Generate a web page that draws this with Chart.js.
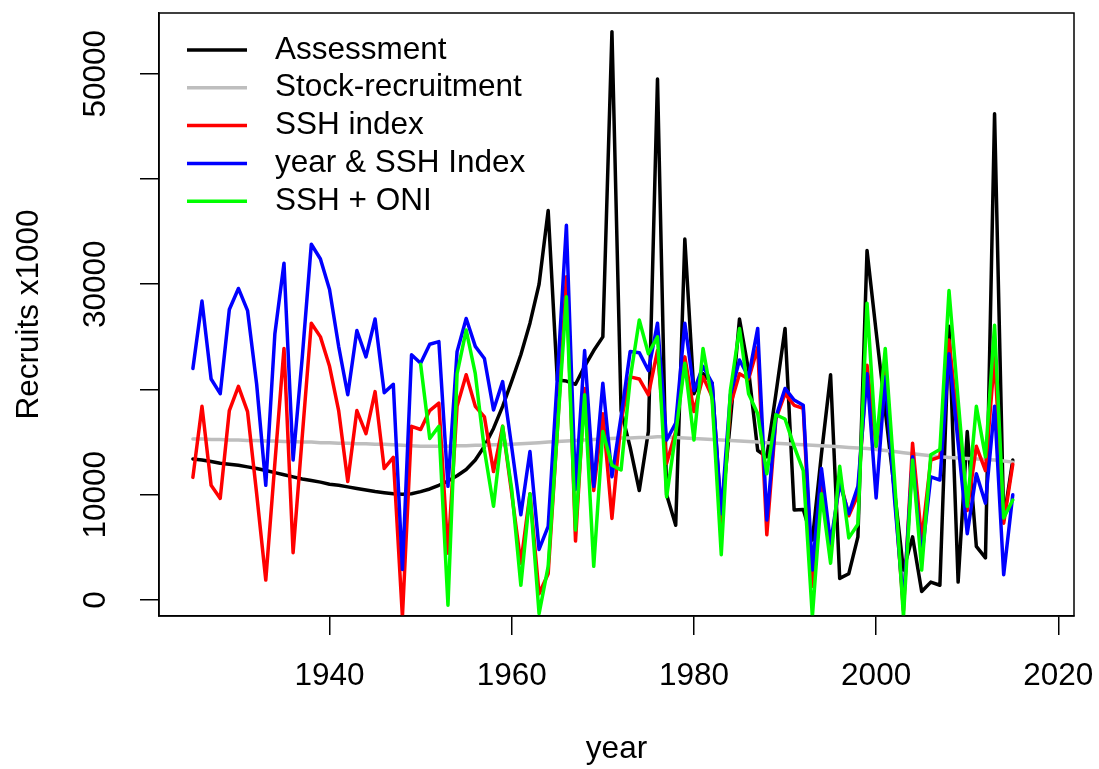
<!DOCTYPE html>
<html>
<head>
<meta charset="utf-8">
<title>Recruits x1000</title>
<script src="https://cdn.jsdelivr.net/npm/chart.js@4.4.1/dist/chart.umd.min.js"></script>
<style>
  html, body { margin: 0; padding: 0; background: #ffffff; }
  #chart { display: block; }
</style>
</head>
<body>
<canvas id="chart" width="1099" height="769"></canvas>
<script>
// Years 1925-2015
const firstYear = 1925
const lastYear = 2015
const years = []
for (let yr = firstYear; yr <= lastYear; yr++) years.push(yr)

// SSH + ONI model only starts in 1950
const sshOniStart = 1950

const assessment = [
  13400, 13300, 13150, 13000, 12900, 12800, 12650, 12500, 12300, 12100,
  11900, 11700, 11500, 11350, 11200, 11000, 10900, 10750, 10600, 10450,
  10300, 10200, 10100, 10050, 10100, 10300, 10550, 10900, 11300, 11800,
  12400, 13300, 14600, 16300, 18400, 20800, 23300, 26300, 30000, 37000,
  20900, 20800, 20500, 22200, 23700, 25000, 54000, 18000, 14500, 10400,
  16000, 49500, 10000, 7100, 34300, 19600, 21500, 20600, 8000, 17000,
  26700, 21800, 14200, 13600, 19600, 25800, 8550, 8600, 5700, 13900,
  21400, 2050, 2500, 6000, 33200, 25500, 18000, 10500, 2850, 6000,
  800, 1700, 1400, 26000, 1700, 16000, 5100, 4000, 46200, 7600,
  13300
]

const stockRecruitment = [
  15300, 15300, 15250, 15250, 15200, 15200, 15150, 15150, 15100, 15100,
  15050, 15050, 15000, 15000, 14950, 14950, 14900, 14900, 14850, 14850,
  14800, 14800, 14750, 14700, 14650, 14600, 14600, 14600, 14600, 14650,
  14650, 14700, 14700, 14750, 14750, 14800, 14850, 14900, 14950, 15000,
  15050, 15100, 15150, 15200, 15250, 15300, 15350, 15400, 15400, 15450,
  15450, 15500, 15500, 15450, 15400, 15350, 15300, 15250, 15200, 15150,
  15100, 15050, 15000, 14950, 14900, 14850, 14800, 14750, 14700, 14650,
  14600, 14550, 14500, 14450, 14400, 14300, 14200, 14100, 14000, 13900,
  13800, 13700, 13600, 13550, 13500, 13450, 13400, 13350, 13300, 13200,
  13100
]

const sshIndex = [
  11650, 18400, 10900, 9650, 18000, 20300, 17900, 10100, 1900, 13000,
  23900, 4500, 15500, 26300, 25000, 22200, 18000, 11250, 18000, 15800,
  19800, 12500, 13550, -1600, 16500, 16200, 18000, 18700, 4450, 18400,
  21400, 18400, 17400, 12200, 16500, 10100, 3500, 10100, 600, 2500,
  16000, 30700, 5600, 20100, 10400, 17700, 7750, 17000, 21200, 21000,
  19500, 23700, 13000, 16000, 23100, 17900, 21200, 19300, 7300, 18500,
  21500, 21000, 24000, 6200, 17200, 19600, 18500, 18200, 1300, 12000,
  4500, 11500, 8000, 10000, 22300, 14600, 22000, 10500, -1000, 14900,
  5700, 13300, 13600, 24700, 16500, 8500, 14600, 12300, 23100, 7300,
  12900
]

const yearSshIndex = [
  22000, 28400, 21000, 19600, 27600, 29600, 27500, 20500, 10900, 25300,
  32000, 13300, 23000, 33800, 32400, 29500, 24100, 19500, 25600, 23100,
  26700, 19700, 20500, 2900, 23300, 22500, 24300, 24550, 10800, 23600,
  26750, 24100, 22950, 18050, 20750, 14500, 8100, 14100, 4800, 7000,
  21000, 35600, 10500, 23700, 10800, 20600, 11700, 17400, 23600, 23500,
  21800, 26300, 15200, 16800, 26300, 19900, 22200, 20600, 8200, 19500,
  22800, 21200, 25800, 7600, 17400, 20100, 19000, 18500, 2850, 12500,
  5400, 11100, 8200, 10800, 21500, 9700, 21200, 9800, -400, 13600,
  4000, 11700, 11400, 23400, 14900, 6300, 12000, 9200, 18400, 2400,
  10000
]

// 1950-2015
const sshOni = [
  22400, 15350, 16500, -500, 21500, 25650, 21500, 14250, 8900, 16500,
  10500, 1400, 10100, -1300, 3200, 16000, 28800, 6650, 19500, 3200,
  16000, 12800, 12350, 21000, 26600, 23400, 25000, 9800, 15800, 22500,
  15200, 23900, 19000, 4300, 19900, 25800, 19600, 17700, 12000, 17600,
  17200, 14600, 12300, -1600, 10100, 3500, 12700, 5900, 7200, 28200,
  14600, 23900, 11700, -1600, 13300, 2850, 13800, 14300, 29400, 19000,
  8900, 18400, 13600, 26100, 7800, 9500
]

const seriesNames = ["Assessment", "Stock-recruitment", "SSH index", "year & SSH Index", "SSH + ONI"]
const seriesColors = ["#000000", "#bebebe", "#ff0000", "#0000ff", "#00ff00"]

// Axis ticks
const xTicks = [1940, 1960, 1980, 2000, 2020]
const yTickLabels = [0, 10000, 30000, 50000]

const fontFamily = "'Liberation Sans', Arial, Helvetica, sans-serif"
const fontSize = 31.5

function toPoints(values, startYear) {
  return values.map((v, i) => ({ x: startYear + i, y: v }))
}

const seriesData = [
  toPoints(assessment, firstYear),
  toPoints(stockRecruitment, firstYear),
  toPoints(sshIndex, firstYear),
  toPoints(yearSshIndex, firstYear),
  toPoints(sshOni, sshOniStart),
]

// R style box around the plot region
const boxPlugin = {
  id: "plotBox",
  afterDraw(chart) {
    const { ctx, chartArea } = chart
    ctx.save()
    ctx.strokeStyle = "#000"
    ctx.lineWidth = 1.5
    ctx.strokeRect(chartArea.left, chartArea.top, chartArea.right - chartArea.left, chartArea.bottom - chartArea.top)
    ctx.restore()
  },
}

// R style legend: short line then label, no frame
const rLegendPlugin = {
  id: "rLegend",
  afterDraw(chart) {
    const { ctx, chartArea } = chart
    ctx.save()
    ctx.font = fontSize + "px " + fontFamily
    ctx.textBaseline = "middle"
    ctx.textAlign = "left"
    chart.data.datasets.forEach((ds, i) => {
      const y = chartArea.top + 37 + i * 37.8
      ctx.strokeStyle = ds.borderColor
      ctx.lineWidth = 3.5
      ctx.beginPath()
      ctx.moveTo(chartArea.left + 28, y)
      ctx.lineTo(chartArea.left + 88, y)
      ctx.stroke()
      ctx.fillStyle = "#000"
      ctx.fillText(ds.label, chartArea.left + 116, y)
    })
    ctx.restore()
  },
}

const ctx = document.getElementById("chart").getContext("2d")
const chart = new Chart(ctx, {
  type: "line",
  data: {
    datasets: seriesNames.map((name, i) => ({
      label: name,
      data: seriesData[i],
      borderColor: seriesColors[i],
      backgroundColor: seriesColors[i],
      borderWidth: 3.5,
      pointRadius: 0,
      tension: 0,
      fill: false,
      borderJoinStyle: "round",
      borderCapStyle: "round",
      // later series on top, like R draws them
      order: seriesNames.length - i,
    })),
  },
  options: {
    responsive: false,
    devicePixelRatio: 1,
    animation: false,
    layout: { padding: { top: 13, right: 25, left: 0, bottom: 0 } },
    plugins: {
      legend: { display: false },
      tooltip: { enabled: false },
    },
    scales: {
      x: {
        type: "linear",
        min: 1921.28,
        max: 2021.72,
        afterFit(scale) {
          // fixed axis height, and don't let the 2020 label shrink the plot
          scale.height = 153
          scale.paddingLeft = 0
          scale.paddingRight = 0
        },
        afterBuildTicks(scale) {
          scale.ticks = xTicks.map((v) => ({ value: v }))
        },
        ticks: {
          autoSkip: false,
          maxRotation: 0,
          padding: 22,
          color: "#000",
          font: { family: fontFamily, size: fontSize },
          callback: (v) => String(v),
        },
        grid: {
          drawOnChartArea: false,
          drawTicks: true,
          tickLength: 19,
          color: "#000",
          lineWidth: 1.5,
        },
        border: { display: true, color: "#000", width: 1.5 },
        title: {
          display: true,
          text: "year",
          color: "#000",
          font: { family: fontFamily, size: fontSize },
          padding: { top: 0, bottom: 1 },
        },
      },
      y: {
        type: "linear",
        min: -1520,
        max: 55770,
        afterFit(scale) {
          scale.width = 159
          scale.paddingTop = 0
          scale.paddingBottom = 0
        },
        afterBuildTicks(scale) {
          const ticks = []
          for (let v = 0; v <= 50000; v += 10000) ticks.push({ value: v })
          scale.ticks = ticks
        },
        ticks: {
          autoSkip: false,
          minRotation: 90,
          maxRotation: 90,
          crossAlign: "center",
          padding: 0,
          color: "#000",
          font: { family: fontFamily, size: fontSize },
          callback: (v) => (yTickLabels.includes(v) ? String(v) : ""),
        },
        grid: {
          drawOnChartArea: false,
          drawTicks: true,
          tickLength: 19,
          color: "#000",
          lineWidth: 1.5,
        },
        border: { display: true, color: "#000", width: 1.5 },
        title: {
          display: true,
          text: "Recruits x1000",
          color: "#000",
          font: { family: fontFamily, size: fontSize },
          padding: { top: 10, bottom: 0 },
        },
      },
    },
  },
  plugins: [boxPlugin, rLegendPlugin],
})
</script>
</body>
</html>
